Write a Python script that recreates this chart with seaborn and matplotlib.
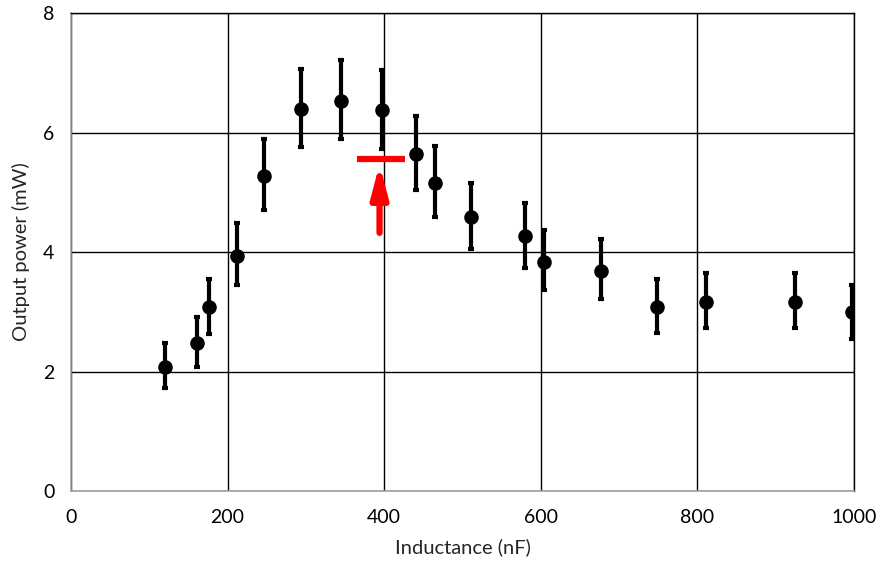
import numpy as np
import pandas as pd
import matplotlib
matplotlib.use("Agg")
import matplotlib.pyplot as plt
import seaborn as sns

# --- data ---
inductance = [120, 161, 176, 212, 246, 294, 345, 397, 441, 465, 511, 580, 604, 677, 749, 811, 924, 998]
power = [2.08, 2.48, 3.08, 3.94, 5.28, 6.40, 6.53, 6.38, 5.64, 5.15, 4.59, 4.26, 3.84, 3.69, 3.08, 3.17, 3.17, 2.99]
err_top = [2.47, 2.91, 3.55, 4.48, 5.89, 7.07, 7.21, 7.05, 6.27, 5.77, 5.16, 4.82, 4.37, 4.22, 3.55, 3.65, 3.65, 3.45]
err_bot = [1.72, 2.07, 2.63, 3.44, 4.70, 5.76, 5.89, 5.73, 5.04, 4.58, 4.05, 3.74, 3.36, 3.21, 2.64, 2.72, 2.72, 2.55]

x_ticks = [0, 200, 400, 600, 800, 1000]
y_ticks = [0, 2, 4, 6, 8]

# red threshold marker
mark_x = [365, 427]
mark_y = 5.56
arrow_x = 394
arrow_from = 4.32
arrow_to = 5.47

df = pd.DataFrame({"inductance": inductance, "power": power})
lower = np.array(power) - np.array(err_bot)
upper = np.array(err_top) - np.array(power)

sns.set_style("white")
plt.rcParams['font.family'] = ['Lato', 'DejaVu Sans']

fig = plt.figure(figsize=(8.78, 5.66), dpi=100)
ax = fig.add_axes([0.0809, 0.1325, 0.8918, 0.8445])

ax.errorbar(inductance, power, yerr=[lower, upper], fmt='none',
            ecolor='black', elinewidth=3, capsize=2, capthick=3, zorder=3)
sns.scatterplot(data=df, x="inductance", y="power", ax=ax, color='black',
                s=110, edgecolor='black', linewidth=0, zorder=4)

# red bar + arrow
ax.plot(mark_x, [mark_y, mark_y], color='red', lw=4.5, solid_capstyle='butt', zorder=5)
ax.annotate("", xy=(arrow_x, arrow_to), xytext=(arrow_x, arrow_from),
            arrowprops=dict(arrowstyle='-|>,head_length=1.9,head_width=0.5',
                            color='red', lw=4.5, shrinkA=0, shrinkB=0), zorder=5)

ax.set_xlim(0, 1000)
ax.set_ylim(0, 8)
ax.set_xticks(x_ticks)
ax.set_yticks(y_ticks)
ax.grid(True, color='black', lw=1)
ax.set_axisbelow(True)
for side in ['top', 'right']:
    ax.spines[side].set_color('black')
    ax.spines[side].set_linewidth(1)
for side in ['left', 'bottom']:
    ax.spines[side].set_color('#a0a0a0')
    ax.spines[side].set_linewidth(1.2)

ax.tick_params(axis='both', length=0, labelsize=14, pad=13, colors='black')
ax.tick_params(axis='y', pad=12)
ax.set_xlabel("Inductance (nF)", fontsize=14.5, labelpad=9)
ax.set_ylabel("Output power (mW)", fontsize=14.5, labelpad=9)

fig.savefig("out.png", dpi=100)
